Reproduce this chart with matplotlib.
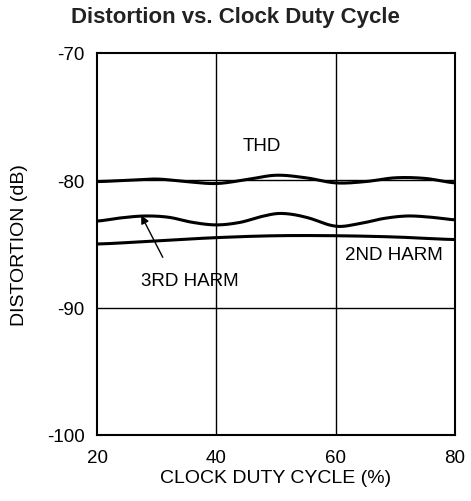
import matplotlib
matplotlib.use('Agg')
import matplotlib.pyplot as plt
import numpy as np

plt.rcParams['font.family'] = ['Liberation Sans', 'DejaVu Sans']
plt.rcParams['axes.unicode_minus'] = False

thd_x = [20, 25, 30, 35, 40, 45, 50, 55, 60, 65, 70, 75, 80]
thd_y = [-80.1, -80.0, -79.9, -80.1, -80.25, -79.95, -79.6, -79.8, -80.2, -80.1, -79.8, -79.85, -80.2]

h3_x = [20, 24, 28, 32, 36, 40, 44, 48, 51, 55, 60, 64, 68, 72, 76, 80]
h3_y = [-83.2, -82.95, -82.8, -82.9, -83.3, -83.5, -83.3, -82.8, -82.6, -82.9, -83.6, -83.4, -83.0, -82.8, -82.9, -83.1]

h2_x = [20, 30, 40, 50, 60, 70, 80]
h2_y = [-85.0, -84.75, -84.5, -84.35, -84.35, -84.45, -84.65]

xticks = [20, 40, 60, 80]
yticks = [-100, -90, -80, -70]


def smooth(x, y, n=300):
    # catmull-rom through the read points
    x = np.asarray(x, float)
    y = np.asarray(y, float)
    xs = np.linspace(x[0], x[-1], n)
    out = []
    for xi in xs:
        i = min(max(np.searchsorted(x, xi) - 1, 0), len(x) - 2)
        x0, x1 = x[i], x[i + 1]
        t = (xi - x0) / (x1 - x0)
        p0 = y[i - 1] if i > 0 else y[i]
        p1, p2 = y[i], y[i + 1]
        p3 = y[i + 2] if i + 2 < len(y) else y[i + 1]
        out.append(0.5 * ((2 * p1) + (-p0 + p2) * t + (2 * p0 - 5 * p1 + 4 * p2 - p3) * t ** 2
                          + (-p0 + 3 * p1 - 3 * p2 + p3) * t ** 3))
    return xs, np.array(out)


fig = plt.figure(figsize=(4.71, 5.02), dpi=100)
ax = fig.add_axes([97 / 471, 1 - 436 / 502, 358 / 471, 382 / 502])

for x, y in [(thd_x, thd_y), (h3_x, h3_y), (h2_x, h2_y)]:
    xs, ys = smooth(x, y)
    ax.plot(xs, ys, color='black', lw=2.2, solid_capstyle='butt')

ax.set_xlim(20, 80)
ax.set_ylim(-100, -70)
ax.set_xticks(xticks)
ax.set_yticks(yticks)
ax.tick_params(length=0, labelsize=13.5)
ax.tick_params(axis='x', pad=10)
ax.tick_params(axis='y', pad=9)
for v in [40, 60]:
    ax.axvline(v, color='black', lw=1)
for v in [-80, -90]:
    ax.axhline(v, color='black', lw=1)
for s in ax.spines.values():
    s.set_linewidth(1.5)

ax.text(47.6, -77.3, 'THD', fontsize=13.5, ha='center', va='center')
ax.text(69.8, -85.8, '2ND HARM', fontsize=13.5, ha='center', va='center')
ax.annotate('3RD HARM', xy=(27.4, -82.75), xytext=(35.6, -87.9), fontsize=13.5,
            ha='center', va='center',
            arrowprops=dict(arrowstyle='-|>', color='black', lw=1, shrinkA=10, shrinkB=0,
                            mutation_scale=12, relpos=(0.3, 1.0)))

ax.set_xlabel('CLOCK DUTY CYCLE (%)', fontsize=14)
ax.set_ylabel('DISTORTION (dB)', fontsize=14)
ax.xaxis.set_label_coords(0.5, -(479 - 436) / 382, transform=ax.transAxes)
ax.yaxis.set_label_coords(-(97 - 20) / 358, 0.5, transform=ax.transAxes)
ax.xaxis.label.set_va('center')
ax.yaxis.label.set_va('center')
fig.text(0.5, 1 - 17 / 502, 'Distortion vs. Clock Duty Cycle', fontsize=16,
         fontweight='bold', ha='center', va='center', color='#222222')

fig.savefig('out.png', dpi=100)
